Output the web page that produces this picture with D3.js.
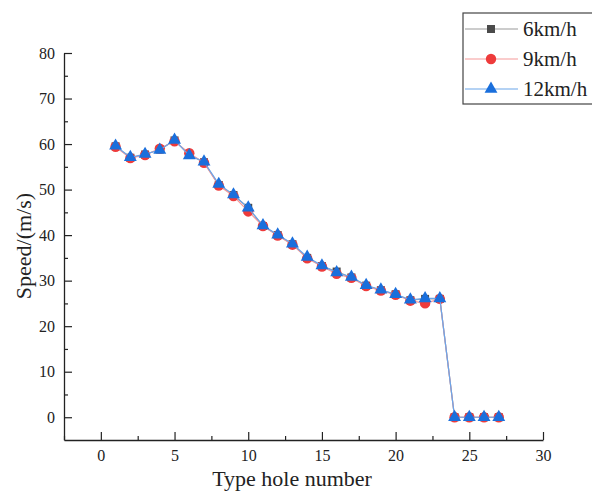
<!DOCTYPE html>
<html>
<head>
<meta charset="utf-8">
<script src="https://cdn.jsdelivr.net/npm/d3@7"></script>
<style>
    body { margin: 0; background: #fff; }
    text { font-family: "Liberation Serif", "DejaVu Serif", serif; fill: #222; }
</style>
</head>
<body>
<script>
// hole numbers
var holes = [1, 2, 3, 4, 5, 6, 7, 8, 9, 10, 11, 12, 13, 14, 15, 16, 17, 18, 19, 20, 21, 22, 23, 24, 25, 26, 27];

// speed values for each walking speed
var speed6 = [59.5, 57.0, 57.7, 58.8, 60.8, 57.6, 56.0, 51.0, 48.8, 46.0, 42.0, 40.0, 38.0, 35.0, 33.2, 32.0, 30.7, 28.9, 27.9, 27.0, 25.7, 26.0, 26.0, 0, 0, 0, 0];
var speed9 = [59.4, 56.9, 57.6, 59.0, 60.6, 58.0, 55.9, 50.9, 48.6, 45.2, 42.0, 39.9, 37.9, 34.9, 33.1, 31.5, 30.6, 28.8, 27.8, 26.9, 25.6, 25.0, 26.0, 0, 0, 0, 0];
var speed12 = [59.6, 57.1, 57.8, 58.7, 60.9, 57.5, 56.1, 51.2, 48.9, 46.0, 42.1, 40.1, 38.1, 35.2, 33.3, 31.8, 30.8, 29.0, 28.0, 27.0, 25.8, 26.1, 26.1, 0, 0, 0, 0];

var seriesNames = ["6km/h", "9km/h", "12km/h"];
var xTicks = [0, 5, 10, 15, 20, 25, 30];
var yTicks = [0, 10, 20, 30, 40, 50, 60, 70, 80];

window.onload = drawChart();

function drawChart() {
    var width = 592,
        height = 494;

    var svg = d3.select("body")
        .append("svg")
        .attr("width", width)
        .attr("height", height);

    // plot area
    var left = 64, right = 543, top = 53, bottom = 440;

    var x = d3.scaleLinear().domain([-2.5, 30]).range([left, right]);
    var y = d3.scaleLinear().domain([-5, 80]).range([bottom, top]);

    // x axis, ticks inward
    svg.append("g")
        .attr("transform", "translate(0," + bottom + ")")
        .call(d3.axisBottom(x).tickValues(xTicks).tickSize(-8).tickPadding(10).tickSizeOuter(0));
    svg.append("g")
        .attr("transform", "translate(0," + bottom + ")")
        .call(d3.axisBottom(x).tickValues(d3.range(-2.5, 30, 5)).tickSize(-4).tickFormat("").tickSizeOuter(0))
        .select(".domain").remove();

    // y axis, ticks inward
    svg.append("g")
        .attr("transform", "translate(" + left + ",0)")
        .call(d3.axisLeft(y).tickValues(yTicks).tickSize(-8).tickPadding(9).tickSizeOuter(0));
    svg.append("g")
        .attr("transform", "translate(" + left + ",0)")
        .call(d3.axisLeft(y).tickValues(d3.range(5, 80, 10)).tickSize(-4).tickFormat("").tickSizeOuter(0))
        .select(".domain").remove();

    svg.selectAll(".domain").attr("stroke", "#222").attr("stroke-width", 1.3);
    svg.selectAll(".tick line").attr("stroke", "#222").attr("stroke-width", 1.2);
    svg.selectAll(".tick text")
        .style("font-family", "Liberation Serif, serif")
        .style("font-size", "16px")
        .attr("fill", "#222");

    // axis titles
    svg.append("text")
        .attr("x", 292)
        .attr("y", 486)
        .attr("text-anchor", "middle")
        .style("font-size", "22px")
        .text("Type hole number");

    svg.append("text")
        .attr("transform", "translate(31,246) rotate(-90)")
        .attr("text-anchor", "middle")
        .style("font-size", "22px")
        .text("Speed/(m/s)");

    var series = [
        { name: seriesNames[0], values: speed6, line: "#9a9a9a", fill: "#4a4a4a", shape: d3.symbolSquare, size: 64 },
        { name: seriesNames[1], values: speed9, line: "#f59a9a", fill: "#ee3b3b", shape: d3.symbolCircle, size: 85 },
        { name: seriesNames[2], values: speed12, line: "#6aa5ea", fill: "#1a6fdc", shape: d3.symbolTriangle, size: 72 }
    ];

    var line = d3.line()
        .x(function(d, i) { return x(holes[i]); })
        .y(function(d) { return y(d); });

    series.forEach(function(s) {
        svg.append("path")
            .datum(s.values)
            .attr("fill", "none")
            .attr("stroke", s.line)
            .attr("stroke-width", 1.2)
            .attr("d", line);

        svg.selectAll(".pt-" + s.name.replace("/", ""))
            .data(s.values)
            .enter()
            .append("path")
            .attr("d", d3.symbol().type(s.shape).size(s.size))
            .attr("transform", function(d, i) { return "translate(" + x(holes[i]) + "," + y(d) + ")"; })
            .attr("fill", s.fill);
    });

    // legend
    var legend = svg.append("g");
    legend.append("rect")
        .attr("x", 463)
        .attr("y", 13)
        .attr("width", 135)
        .attr("height", 91)
        .attr("fill", "#fff")
        .attr("stroke", "#444")
        .attr("stroke-width", 1.2);

    series.forEach(function(s, i) {
        var ly = 29 + i * 30;
        legend.append("line")
            .attr("x1", 465).attr("x2", 518)
            .attr("y1", ly).attr("y2", ly)
            .attr("stroke", s.line)
            .attr("stroke-width", 1.2);
        legend.append("path")
            .attr("d", d3.symbol().type(s.shape).size(s.size))
            .attr("transform", "translate(491," + ly + ")")
            .attr("fill", s.fill);
        legend.append("text")
            .attr("x", 523)
            .attr("y", ly + 7)
            .style("font-size", "21px")
            .text(s.name);
    });
}
</script>
</body>
</html>
